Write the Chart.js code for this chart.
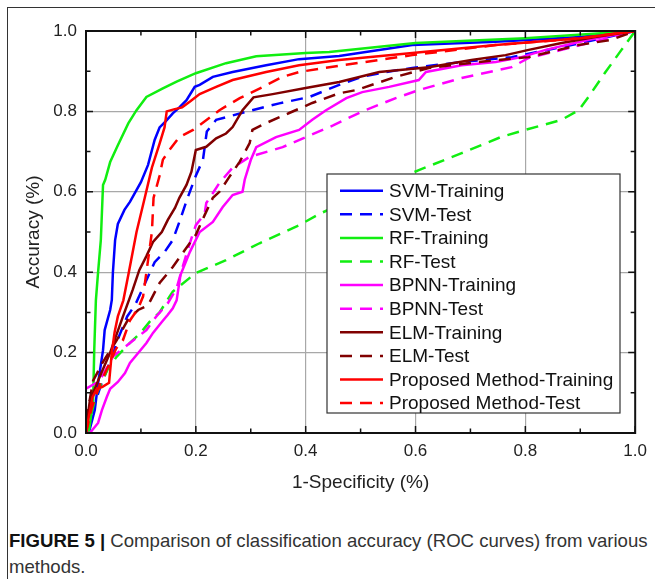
<!DOCTYPE html>
<html>
<head>
<meta charset="utf-8">
<script src="https://cdn.jsdelivr.net/npm/chart.js@4.4.1/dist/chart.umd.min.js"></script>
<style>
	html, body { margin: 0; padding: 0; background: #fff; overflow: hidden; }
	#frame { position: absolute; left: 7px; top: 7px; width: 700px; height: 700px; border: 1.5px solid #333; box-sizing: border-box; }
	#wrap { position: absolute; left: 0; top: 0; width: 655px; height: 500px; }
	#caption { position: absolute; left: 9px; top: 528px; width: 646px; font: 18.6px "Liberation Sans", Arial, sans-serif; line-height: 26px; color: #333; }
	#caption b { color: #111; }
</style>
</head>
<body>
<div id="frame"></div>
<div id="wrap"><canvas id="roc" width="655" height="500"></canvas></div>
<div id="caption"><b>FIGURE 5 |</b> Comparison of classification accuracy (ROC curves) from various methods.</div>
<script>
"use strict";

const seriesLabels = [
	"SVM-Training", "SVM-Test", "RF-Training", "RF-Test", "BPNN-Training",
	"BPNN-Test", "ELM-Training", "ELM-Test", "Proposed Method-Training", "Proposed Method-Test",
];
const seriesColors = [
	"#0000ff", "#0000ff", "#11ee11", "#11ee11", "#ff00ff",
	"#ff00ff", "#800000", "#800000", "#ff0000", "#ff0000",
];

const tickLabels = ["0.0", "0.2", "0.4", "0.6", "0.8", "1.0"];

const svmTrainX = [0, 0.005, 0.016, 0.022, 0.031, 0.034, 0.044, 0.047, 0.049, 0.053, 0.058, 0.07, 0.08, 0.1, 0.113, 0.125, 0.134, 0.145, 0.158, 0.17, 0.183, 0.198, 0.207, 0.231, 0.267, 0.328, 0.388, 0.461, 0.594, 0.746, 0.9, 1];
const svmTrainY = [0, 0, 0.057, 0.124, 0.206, 0.256, 0.306, 0.331, 0.4, 0.48, 0.52, 0.555, 0.575, 0.624, 0.667, 0.729, 0.76, 0.775, 0.795, 0.81, 0.828, 0.861, 0.866, 0.886, 0.898, 0.915, 0.93, 0.938, 0.965, 0.973, 0.985, 1];

const svmTestX = [0, 0.01, 0.03, 0.045, 0.06, 0.075, 0.09, 0.11, 0.125, 0.143, 0.158, 0.17, 0.185, 0.2, 0.213, 0.22, 0.237, 0.267, 0.3, 0.352, 0.407, 0.461, 0.503, 0.546, 0.594, 0.684, 0.775, 0.866, 0.927, 1];
const svmTestY = [0, 0.05, 0.13, 0.18, 0.24, 0.29, 0.32, 0.38, 0.425, 0.45, 0.48, 0.525, 0.585, 0.64, 0.68, 0.75, 0.779, 0.79, 0.802, 0.82, 0.836, 0.866, 0.886, 0.898, 0.908, 0.923, 0.935, 0.96, 0.978, 1];

const rfTrainX = [0, 0.005, 0.013, 0.015, 0.018, 0.022, 0.027, 0.031, 0.035, 0.044, 0.058, 0.077, 0.092, 0.11, 0.14, 0.165, 0.2, 0.255, 0.31, 0.4, 0.443, 0.6, 0.8, 1];
const rfTrainY = [0, 0, 0.082, 0.206, 0.33, 0.4, 0.48, 0.617, 0.63, 0.674, 0.716, 0.77, 0.803, 0.836, 0.857, 0.874, 0.895, 0.92, 0.937, 0.945, 0.948, 0.97, 0.982, 1];

const rfTestX = [0, 0.008, 0.02, 0.04, 0.056, 0.08, 0.1, 0.116, 0.134, 0.158, 0.2, 0.255, 0.316, 0.388, 0.428, 0.606, 0.684, 0.757, 0.8, 0.866, 0.897, 0.915, 0.945, 0.975, 1];
const rfTestY = [0, 0.04, 0.1, 0.16, 0.19, 0.224, 0.25, 0.277, 0.3, 0.352, 0.398, 0.43, 0.472, 0.517, 0.547, 0.654, 0.696, 0.737, 0.754, 0.779, 0.803, 0.836, 0.896, 0.953, 1];

const bpTrainX = [0, 0.007, 0.022, 0.029, 0.038, 0.044, 0.058, 0.071, 0.08, 0.095, 0.11, 0.122, 0.138, 0.149, 0.158, 0.165, 0.172, 0.189, 0.207, 0.231, 0.249, 0.267, 0.285, 0.289, 0.3, 0.31, 0.346, 0.388, 0.412, 0.437, 0.474, 0.503, 0.552, 0.606, 0.619, 0.684, 0.746, 0.793, 0.837, 0.915, 1];
const bpTrainY = [0, 0, 0.025, 0.057, 0.09, 0.11, 0.127, 0.149, 0.174, 0.199, 0.224, 0.249, 0.276, 0.294, 0.31, 0.33, 0.393, 0.45, 0.5, 0.525, 0.562, 0.592, 0.6, 0.63, 0.679, 0.711, 0.736, 0.754, 0.779, 0.803, 0.833, 0.848, 0.861, 0.878, 0.898, 0.915, 0.923, 0.935, 0.953, 0.978, 1];

const bpTestX = [0, 0.025, 0.049, 0.08, 0.11, 0.128, 0.149, 0.165, 0.176, 0.189, 0.2, 0.216, 0.219, 0.243, 0.267, 0.298, 0.358, 0.4, 0.45, 0.503, 0.564, 0.606, 0.684, 0.775, 0.806, 0.866, 0.938, 1];
const bpTestY = [0.11, 0.13, 0.19, 0.224, 0.256, 0.29, 0.323, 0.36, 0.413, 0.472, 0.517, 0.545, 0.572, 0.622, 0.66, 0.687, 0.711, 0.736, 0.765, 0.8, 0.833, 0.853, 0.883, 0.91, 0.933, 0.953, 0.978, 1];

const elmTrainX = [0, 0.004, 0.007, 0.025, 0.044, 0.067, 0.085, 0.097, 0.11, 0.122, 0.138, 0.149, 0.162, 0.17, 0.183, 0.192, 0.2, 0.219, 0.237, 0.255, 0.267, 0.285, 0.305, 0.34, 0.4, 0.461, 0.534, 0.624, 0.702, 0.764, 0.806, 0.866, 0.927, 1];
const elmTrainY = [0, 0.05, 0.08, 0.14, 0.2, 0.289, 0.356, 0.405, 0.44, 0.475, 0.5, 0.53, 0.56, 0.585, 0.617, 0.65, 0.704, 0.712, 0.733, 0.745, 0.761, 0.803, 0.835, 0.843, 0.858, 0.873, 0.898, 0.91, 0.928, 0.94, 0.953, 0.97, 0.985, 1];

const elmTestX = [0, 0.013, 0.031, 0.056, 0.076, 0.095, 0.113, 0.134, 0.158, 0.18, 0.2, 0.216, 0.231, 0.243, 0.261, 0.28, 0.298, 0.303, 0.328, 0.37, 0.412, 0.461, 0.492, 0.564, 0.624, 0.715, 0.806, 0.897, 0.956, 1];
const elmTestY = [0.03, 0.13, 0.177, 0.231, 0.281, 0.306, 0.318, 0.373, 0.413, 0.455, 0.493, 0.542, 0.585, 0.6, 0.637, 0.675, 0.721, 0.754, 0.771, 0.796, 0.821, 0.845, 0.853, 0.886, 0.908, 0.923, 0.935, 0.965, 0.978, 1];

const propTrainX = [0, 0.005, 0.012, 0.02, 0.03, 0.042, 0.047, 0.052, 0.058, 0.068, 0.078, 0.092, 0.107, 0.12, 0.134, 0.143, 0.147, 0.16, 0.175, 0.19, 0.207, 0.237, 0.267, 0.328, 0.388, 0.461, 0.594, 0.746, 0.9, 1];
const propTrainY = [0, 0.04, 0.09, 0.11, 0.115, 0.125, 0.2, 0.25, 0.29, 0.33, 0.4, 0.5, 0.585, 0.66, 0.72, 0.76, 0.8, 0.805, 0.81, 0.825, 0.843, 0.861, 0.878, 0.898, 0.915, 0.928, 0.945, 0.965, 0.982, 1];

const propTestX = [0, 0.01, 0.025, 0.04, 0.055, 0.067, 0.08, 0.095, 0.104, 0.11, 0.113, 0.12, 0.123, 0.134, 0.14, 0.152, 0.17, 0.195, 0.22, 0.243, 0.28, 0.322, 0.358, 0.388, 0.443, 0.594, 0.746, 0.9, 1];
const propTestY = [0, 0.06, 0.12, 0.165, 0.21, 0.23, 0.28, 0.31, 0.34, 0.4, 0.43, 0.5, 0.585, 0.64, 0.68, 0.704, 0.736, 0.754, 0.779, 0.803, 0.833, 0.861, 0.886, 0.898, 0.91, 0.94, 0.965, 0.982, 1];

const seriesX = [svmTrainX, svmTestX, rfTrainX, rfTestX, bpTrainX, bpTestX, elmTrainX, elmTestX, propTrainX, propTestX];
const seriesY = [svmTrainY, svmTestY, rfTrainY, rfTestY, bpTrainY, bpTestY, elmTrainY, elmTestY, propTrainY, propTestY];

const FONT = "'Liberation Sans', Arial, sans-serif";
const DASH = [12, 8];

function zip(xs, ys) {
	return xs.map((x, i) => ({ x: x, y: ys[i] }));
}

// frame around the plot, inward ticks on all four sides
const framePlugin = {
	id: "frame",
	afterDatasetsDraw(chart) {
		const ctx = chart.ctx;
		const a = chart.chartArea;
		const sx = chart.scales.x;
		const sy = chart.scales.y;
		ctx.save();
		ctx.strokeStyle = "#111";
		ctx.lineWidth = 2;
		ctx.strokeRect(a.left, a.top, a.right - a.left, a.bottom - a.top);
		ctx.lineWidth = 1.5;
		ctx.beginPath();
		for (let i = 0; i <= 10; ++i) {
			const len = i % 2 === 0 ? 7 : 4.5;
			const px = sx.getPixelForValue(i / 10);
			const py = sy.getPixelForValue(i / 10);
			ctx.moveTo(px, a.bottom); ctx.lineTo(px, a.bottom - len);
			ctx.moveTo(px, a.top); ctx.lineTo(px, a.top + len);
			ctx.moveTo(a.left, py); ctx.lineTo(a.left + len, py);
			ctx.moveTo(a.right, py); ctx.lineTo(a.right - len, py);
		}
		ctx.stroke();
		ctx.restore();
	},
};

const legendPlugin = {
	id: "boxLegend",
	afterDraw(chart) {
		const ctx = chart.ctx;
		const box = { left: 327, top: 174, right: 620, bottom: 413 };
		ctx.save();
		ctx.fillStyle = "#fff";
		ctx.fillRect(box.left, box.top, box.right - box.left, box.bottom - box.top);
		ctx.strokeStyle = "#333";
		ctx.lineWidth = 1.2;
		ctx.strokeRect(box.left, box.top, box.right - box.left, box.bottom - box.top);
		ctx.font = "19px " + FONT;
		ctx.textBaseline = "middle";
		chart.data.datasets.forEach((ds, i) => {
			const y = 190.7 + i * 23.6;
			ctx.strokeStyle = ds.borderColor;
			ctx.lineWidth = 2.5;
			ctx.setLineDash(ds.borderDash || []);
			ctx.beginPath();
			ctx.moveTo(340, y);
			ctx.lineTo(383, y);
			ctx.stroke();
			ctx.setLineDash([]);
			ctx.fillStyle = "#111";
			ctx.fillText(ds.label, 389, y + 1);
		});
		ctx.restore();
	},
};

const datasets = seriesLabels.map((label, i) => ({
	label: label,
	data: zip(seriesX[i], seriesY[i]),
	borderColor: seriesColors[i],
	borderWidth: 2.5,
	borderDash: i % 2 === 1 ? DASH : [],
	pointRadius: 0,
	tension: 0,
	order: -i,
}));

function gridColor(c) {
	const v = c.tick ? c.tick.value : 0;
	return (v < 0.01 || v > 0.99) ? "rgba(0,0,0,0)" : "#a8a8a8";
}

function axis(title, isY) {
	return {
		type: "linear",
		min: 0,
		max: 1,
		ticks: {
			stepSize: 0.2,
			padding: isY ? 9 : 8,
			color: "#222",
			font: { family: FONT, size: 17 },
			callback: (v) => tickLabels[Math.round(v * 5)],
		},
		grid: { color: gridColor, lineWidth: 1.2, drawTicks: false },
		border: { display: false },
		title: {
			display: true,
			text: title,
			color: "#222",
			font: { family: FONT, size: 19 },
			padding: isY ? { top: 22 } : { bottom: 6 },
		},
		afterFit(scale) {
			if (isY) {
				scale.width = 86;
			} else {
				scale.height = 67;
			}
		},
	};
}

new Chart(document.getElementById("roc"), {
	type: "line",
	data: { datasets: datasets },
	options: {
		responsive: false,
		animation: false,
		layout: { padding: { top: 31, right: 18, left: 0, bottom: 0 } },
		plugins: { legend: { display: false }, tooltip: { enabled: false } },
		scales: {
			x: axis("1-Specificity (%)", false),
			y: axis("Accuracy (%)", true),
		},
	},
	plugins: [framePlugin, legendPlugin],
});
</script>
</body>
</html>
